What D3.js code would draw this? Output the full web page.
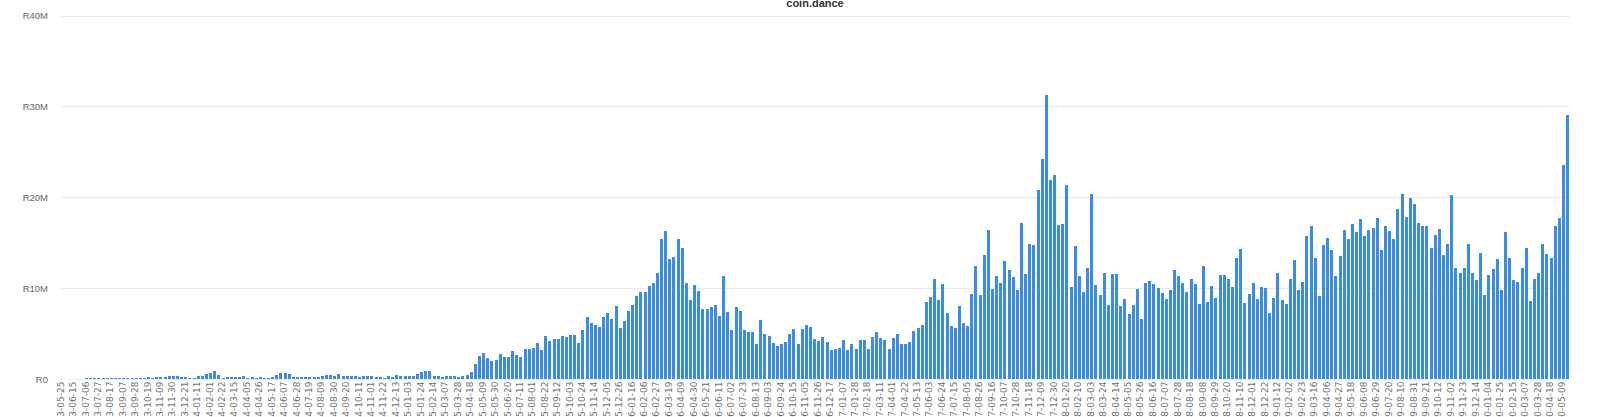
<!DOCTYPE html>
<html>
<head>
<meta charset="utf-8">
<script src="https://cdn.jsdelivr.net/npm/d3@7"></script>
<style>
  html, body { margin: 0; padding: 0; background: #ffffff; }
  svg { display: block; }
</style>
</head>
<body>
<div id="chart"></div>
<script>
// ---------------- data ----------------
const chartTitle = "coin.dance";
const firstWeek = "2013-05-25";   // first weekly category
const lastWeek  = "2020-05-16";   // last weekly category

// weekly volume, millions, one per week
const volumeMillions = [
  0.02,0.02,0.03,0.04,0.04,0.05,0.06,0.06,0.07,0.08,0.08,0.10,0.09,0.10,0.10,0.12,0.13,0.12,0.15,0.14,
  0.15,0.18,0.15,0.20,0.17,0.22,0.33,0.30,0.28,0.24,0.20,0.15,0.12,0.37,0.28,0.55,0.62,0.92,0.44,0.15,
  0.22,0.26,0.22,0.26,0.33,0.15,0.18,0.15,0.22,0.15,0.11,0.26,0.48,0.66,0.70,0.55,0.26,0.22,0.20,0.18,
  0.22,0.25,0.25,0.35,0.40,0.42,0.38,0.55,0.38,0.33,0.30,0.35,0.20,0.30,0.35,0.30,0.22,0.18,0.12,0.35,
  0.25,0.42,0.35,0.33,0.32,0.28,0.50,0.75,0.88,0.88,0.38,0.30,0.26,0.36,0.30,0.35,0.25,0.28,0.45,0.75,
  1.70,2.50,2.85,2.30,2.00,2.05,2.70,2.45,2.45,3.10,2.65,2.40,3.25,3.35,3.40,4.00,3.20,4.70,4.20,4.40,
  4.35,4.70,4.60,4.85,4.85,4.00,5.40,6.85,6.20,5.95,5.70,6.85,7.30,6.60,8.00,5.60,6.40,7.50,8.10,9.15,
  9.60,9.60,10.20,10.60,11.70,15.40,16.25,13.15,13.40,15.40,14.45,10.60,8.70,10.35,9.70,
  7.75,7.70,7.95,8.10,6.95,11.35,7.40,5.40,7.90,7.50,5.40,5.15,5.20,3.80,6.45,4.90,4.70,4.00,3.60,3.90,
  4.10,4.95,5.45,3.90,5.45,5.95,5.70,4.45,4.20,4.65,4.05,3.20,3.35,3.40,4.30,3.20,3.90,3.30,4.30,4.25,
  3.35,4.60,5.20,4.55,4.30,3.35,4.55,5.00,3.90,
  3.90,4.05,5.25,5.60,5.95,8.50,9.00,11.00,8.70,10.50,7.30,5.85,5.60,8.00,6.15,5.80,9.35,12.40,9.25,13.60,
  16.45,9.85,11.30,10.60,12.95,11.95,11.20,9.80,17.20,11.60,14.90,14.70,20.85,24.25,31.30,21.95,22.40,16.90,17.10,21.35,
  10.10,14.60,11.35,9.55,12.25,20.40,10.35,9.20,11.70,8.15,11.50,11.50,8.05,8.80,7.15,8.10,9.95,6.55,10.60,10.75,
  10.50,10.05,9.50,8.75,9.80,12.00,11.35,10.55,9.55,11.00,10.45,8.20,12.40,8.45,10.25,8.95,11.40,11.40,11.05,10.10,
  13.30,14.30,8.40,9.40,10.60,8.75,10.10,10.00,7.30,8.95,11.70,8.70,8.20,11.00,13.10,9.80,10.65,15.75,16.85,13.30,
  9.15,14.70,15.50,14.25,11.30,13.55,16.45,15.40,17.10,16.20,17.60,15.70,16.40,16.65,17.75,14.20,16.80,16.25,15.40,18.70,
  20.35,17.80,19.90,19.30,17.20,16.85,16.80,14.45,15.85,16.50,13.65,14.85,20.30,12.25,11.70,12.20,14.85,11.70,10.90,13.85,
  9.25,11.45,12.05,13.20,9.75,16.20,13.35,10.85,10.65,12.25,14.45,8.55,11.05,11.70,14.85,13.75,13.35,16.80,17.70,23.50,
  29.10
];

const yTickValues = [0, 10, 20, 30, 40];            // millions
const yTickLabels = ["R0", "R10M", "R20M", "R30M", "R40M"];
const xLabelEvery = 3;                               // a date label every 3rd week

// ---------------- derived categories ----------------
const parseDay = d3.utcParse("%Y-%m-%d");
const fmtDay = d3.utcFormat("%Y-%m-%d");
const categories = d3.utcSaturday
  .range(parseDay(firstWeek), d3.utcDay.offset(parseDay(lastWeek), 1))
  .map(fmtDay);
const tickLabels = categories.filter((d, i) => i % xLabelEvery === 0);

// ---------------- layout ----------------
const W = 1600, H = 417;
const plot = { left: 60, right: 1570, top: 15.5, bottom: 379 };
const barColor = "#3a8de4";
const gridColor = "#ececec";
const labelColor = "#666666";
const fontFamily = "'Liberation Sans', Arial, Helvetica, sans-serif";
const xFontFamily = "'DejaVu Sans', Verdana, sans-serif";

const svg = d3.select("#chart").append("svg")
  .attr("width", W).attr("height", H)
  .style("font-family", fontFamily);

const x = d3.scaleBand()
  .domain(categories)
  .range([plot.left, plot.right])
  .paddingInner(0)
  .paddingOuter(0);

const y = d3.scaleLinear()
  .domain([0, 40])
  .range([plot.bottom, plot.top]);

// grid lines + y labels (via d3 axis)
const yAxis = d3.axisLeft(y)
  .tickValues(yTickValues)
  .tickSize(-(plot.right - plot.left))
  .tickPadding(12)
  .tickFormat((d, i) => yTickLabels[i]);

const gy = svg.append("g")
  .attr("transform", `translate(${plot.left},0)`)
  .call(yAxis);
gy.select(".domain").remove();
gy.selectAll(".tick line").attr("stroke", gridColor).attr("stroke-width", 1)
  .attr("shape-rendering", "crispEdges");
gy.selectAll(".tick text")
  .attr("fill", labelColor)
  .style("font-size", "9.5px")
  .style("font-family", fontFamily);

// bars
const bw = x.bandwidth();
svg.append("g")
  .selectAll("rect")
  .data(volumeMillions)
  .join("rect")
  .attr("x", (d, i) => Math.round(x(categories[i]) + 0.2))
  .attr("width", Math.max(1, Math.round(bw * 0.75)))
  .attr("y", d => Math.round(y(d)))
  .attr("height", d => Math.max(0, Math.round(plot.bottom) - Math.round(y(d))))
  .attr("fill", barColor)
  .attr("shape-rendering", "crispEdges");

// x labels (via d3 axis)
const xAxis = d3.axisBottom(x)
  .tickValues(tickLabels)
  .tickSize(0)
  .tickPadding(0);

const gx = svg.append("g")
  .attr("transform", `translate(0,${plot.bottom})`)
  .call(xAxis);
gx.select(".domain").remove();
gx.selectAll(".tick text")
  .attr("fill", "#707070")
  .style("font-size", "9px")
  .style("font-family", xFontFamily)
  .attr("text-anchor", "end")
  .attr("transform", "translate(-1.5,2.5) rotate(-90)")
  .attr("x", 0)
  .attr("y", 0)
  .attr("dy", "0.35em");

// title
svg.append("text")
  .attr("x", (plot.left + plot.right) / 2)
  .attr("y", 6.5)
  .attr("text-anchor", "middle")
  .attr("fill", "#333333")
  .style("font-size", "11px")
  .style("font-weight", "bold")
  .text(chartTitle);
</script>
</body>
</html>
